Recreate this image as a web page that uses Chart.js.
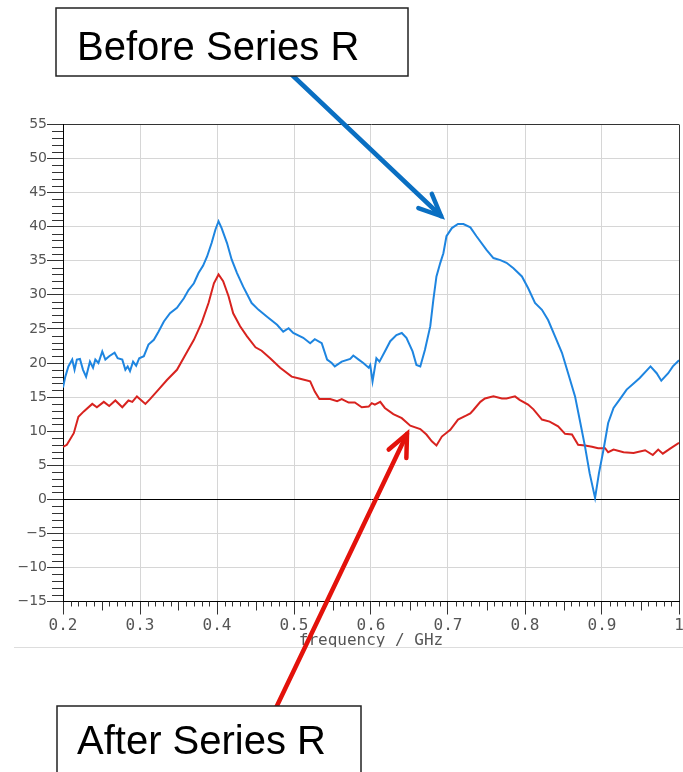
<!DOCTYPE html>
<html>
<head>
<meta charset="utf-8">
<script src="https://cdn.jsdelivr.net/npm/chart.js@4.4.0/dist/chart.umd.min.js"></script>
<style>
body { margin: 0; background: #fff; }
#wrap { position: relative; width: 683px; height: 772px; }
</style>
</head>
<body>
<div id="wrap"><canvas id="chart"></canvas></div>
<script>
// frecuencias (GHz) y valores
var freqBefore = [0.200,0.203,0.207,0.212,0.215,0.218,0.222,0.226,0.230,0.235,0.239,0.242,0.246,0.251,0.255,0.260,0.267,0.271,0.277,0.281,0.284,0.287,0.291,0.295,0.299,0.305,0.311,0.318,0.324,0.331,0.339,0.348,0.357,0.363,0.370,0.376,0.382,0.387,0.393,0.398,0.402,0.406,0.413,0.419,0.426,0.434,0.445,0.454,0.465,0.478,0.486,0.493,0.499,0.512,0.521,0.527,0.536,0.543,0.549,0.553,0.562,0.573,0.577,0.584,0.590,0.597,0.599,0.602,0.607,0.611,0.618,0.625,0.633,0.640,0.646,0.654,0.659,0.664,0.670,0.677,0.681,0.685,0.690,0.694,0.698,0.705,0.713,0.720,0.729,0.737,0.750,0.759,0.768,0.776,0.785,0.796,0.804,0.813,0.822,0.830,0.839,0.848,0.856,0.865,0.871,0.878,0.884,0.891,0.896,0.902,0.908,0.915,0.924,0.932,0.941,0.949,0.963,0.971,0.977,0.986,0.992,1.000];
var before = [16.4,18.0,19.5,20.5,19.0,20.5,20.6,19.0,18.0,20.2,19.3,20.5,20.0,21.7,20.5,21.0,21.5,20.7,20.5,19.0,19.5,18.8,20.2,19.6,20.7,21.0,22.7,23.4,24.6,26.1,27.3,28.1,29.5,30.7,31.7,33.2,34.3,35.6,37.6,39.6,40.8,39.8,37.6,35.2,33.2,31.2,28.8,27.8,26.8,25.6,24.6,25.1,24.4,23.7,22.9,23.5,22.9,20.5,20.0,19.5,20.2,20.6,21.1,20.5,20.0,19.3,19.7,17.3,20.7,20.2,21.7,23.2,24.1,24.4,23.7,21.7,19.7,19.5,21.9,25.4,29.3,32.7,34.7,36.1,38.6,39.8,40.4,40.4,39.9,38.6,36.6,35.4,35.1,34.7,33.9,32.7,31.0,28.8,27.8,26.3,23.9,21.5,18.5,15.1,11.7,7.7,3.8,0.2,3.8,7.3,11.2,13.4,14.8,16.1,17.0,17.8,19.5,18.5,17.4,18.5,19.5,20.4];

var freqAfter = [0.200,0.205,0.214,0.220,0.227,0.238,0.244,0.253,0.260,0.268,0.277,0.285,0.290,0.296,0.307,0.313,0.324,0.335,0.348,0.359,0.370,0.380,0.389,0.396,0.402,0.408,0.415,0.421,0.430,0.439,0.450,0.458,0.469,0.482,0.497,0.508,0.521,0.527,0.533,0.547,0.556,0.562,0.571,0.579,0.588,0.597,0.601,0.605,0.612,0.618,0.629,0.640,0.651,0.664,0.672,0.679,0.685,0.692,0.703,0.713,0.724,0.729,0.733,0.742,0.748,0.759,0.770,0.776,0.787,0.793,0.804,0.811,0.822,0.832,0.843,0.852,0.861,0.869,0.878,0.887,0.895,0.904,0.908,0.915,0.928,0.941,0.956,0.966,0.973,0.979,0.988,1.000];
var after = [7.7,8.0,9.7,12.1,12.9,14.0,13.5,14.3,13.7,14.5,13.5,14.5,14.3,15.1,14.0,14.7,16.1,17.5,19.0,21.2,23.4,25.9,28.8,31.7,33.0,32.0,29.8,27.3,25.4,23.9,22.3,21.8,20.7,19.3,18.0,17.7,17.3,15.8,14.7,14.7,14.4,14.7,14.2,14.2,13.5,13.6,14.1,13.9,14.3,13.4,12.5,11.9,10.8,10.3,9.5,8.5,7.9,9.2,10.2,11.7,12.3,12.6,13.1,14.3,14.8,15.1,14.8,14.8,15.1,14.6,13.9,13.2,11.7,11.4,10.7,9.6,9.5,8.0,7.9,7.7,7.5,7.5,6.9,7.3,6.9,6.8,7.2,6.5,7.3,6.7,7.4,8.3];

function toPoints(xs, ys) {
  return xs.map(function (x, i) { return { x: x, y: ys[i] }; });
}

function fmtY(v) {
  return v < 0 ? '\u2212' + (-v) : String(v);
}

function arrow(ctx, x1, y1, x2, y2, color) {
  var a = Math.atan2(y2 - y1, x2 - x1);
  var L = 24, w = 0.42;
  ctx.save();
  ctx.strokeStyle = color;
  ctx.lineWidth = 4.5;
  ctx.lineCap = 'round';
  ctx.lineJoin = 'miter';
  ctx.beginPath();
  ctx.moveTo(x1, y1);
  ctx.lineTo(x2, y2);
  ctx.stroke();
  ctx.beginPath();
  ctx.moveTo(x2 - L * Math.cos(a - w), y2 - L * Math.sin(a - w));
  ctx.lineTo(x2, y2);
  ctx.lineTo(x2 - L * Math.cos(a + w), y2 - L * Math.sin(a + w));
  ctx.stroke();
  ctx.restore();
}

function box(ctx, x, y, w, h, text, tx, ty) {
  ctx.save();
  ctx.fillStyle = '#fff';
  ctx.fillRect(x, y, w, h);
  ctx.strokeStyle = '#222';
  ctx.lineWidth = 1.5;
  ctx.strokeRect(x, y, w, h);
  ctx.fillStyle = '#000';
  ctx.font = '40px "Liberation Sans", Arial, sans-serif';
  ctx.textBaseline = 'alphabetic';
  ctx.fillText(text, tx, ty);
  ctx.restore();
}

// marcas menores de los ejes y las notas con flechas
var extras = {
  id: 'extras',
  afterDraw: function (chart) {
    var ctx = chart.ctx;
    var xs = chart.scales.x, ys = chart.scales.y;
    var area = chart.chartArea;
    ctx.save();
    ctx.strokeStyle = '#333';
    ctx.lineWidth = 1;
    ctx.beginPath();
    for (var v = -15; v <= 55; v++) {
      if (v % 5 === 0) continue;
      var py = Math.round(ys.getPixelForValue(v)) + 0.5;
      ctx.moveTo(area.left - 11, py);
      ctx.lineTo(area.left, py);
    }
    for (var i = 20; i <= 100; i++) {
      if (i % 10 === 0) continue;
      var px = Math.round(xs.getPixelForValue(i / 100)) + 0.5;
      var len = i % 5 === 0 ? 9 : 5;
      ctx.moveTo(px, area.bottom);
      ctx.lineTo(px, area.bottom + len);
    }
    ctx.stroke();
    ctx.strokeStyle = '#ddd';
    ctx.beginPath();
    ctx.moveTo(14, 647.5);
    ctx.lineTo(683, 647.5);
    ctx.stroke();
    ctx.restore();

    arrow(ctx, 290, 73, 441, 216, '#0a6fc2');
    arrow(ctx, 274, 712, 407, 434, '#e3120b');
    box(ctx, 56, 8, 352, 68, 'Before Series R', 77, 59.5);
    box(ctx, 57, 706, 304, 80, 'After Series R', 77, 754);
  }
};

var ctx = document.getElementById('chart').getContext('2d');
var myChart = new Chart(ctx, {
  type: 'line',
  data: {
    datasets: [{
      label: 'Before Series R',
      data: toPoints(freqBefore, before),
      borderColor: '#1e85e0',
      borderWidth: 2,
      pointRadius: 0,
      tension: 0
    }, {
      label: 'After Series R',
      data: toPoints(freqAfter, after),
      borderColor: '#d8231f',
      borderWidth: 2,
      pointRadius: 0,
      tension: 0
    }]
  },
  options: {
    responsive: true,
    maintainAspectRatio: false,
    animation: false,
    layout: { padding: { top: 124.5, right: 4, bottom: 120.5, left: 0 } },
    plugins: {
      legend: { display: false },
      tooltip: { enabled: false }
    },
    scales: {
      x: {
        type: 'linear',
        min: 0.2,
        max: 1,
        ticks: {
          stepSize: 0.1,
          color: '#555',
          padding: 2,
          maxRotation: 0,
          autoSkip: false,
          font: { family: 'DejaVu Sans Mono', size: 16 },
          callback: function (v) { return String(Math.round(v * 10) / 10); }
        },
        grid: {
          color: function (c) { return c.tick && Math.abs(c.tick.value - 1) < 1e-6 ? '#333' : '#d6d6d6'; },
          tickColor: '#333',
          tickLength: 13
        },
        border: { color: '#000' },
        title: {
          display: true,
          text: 'frequency / GHz',
          color: '#555',
          font: { family: 'DejaVu Sans Mono', size: 16 },
          padding: { top: 0, bottom: 1 }
        },
        afterFit: function (s) { s.height = 50; s.paddingLeft = 0; s.paddingRight = 0; }
      },
      y: {
        min: -15,
        max: 55,
        ticks: {
          stepSize: 5,
          color: '#555',
          padding: 0,
          font: { family: 'DejaVu Sans', size: 14 },
          callback: fmtY
        },
        grid: {
          color: function (c) {
            if (!c.tick) return '#d6d6d6';
            if (c.tick.value === 0) return '#000';
            if (c.tick.value === 55) return '#333';
            return '#d6d6d6';
          },
          tickColor: '#333',
          tickLength: 16
        },
        border: { color: '#000' },
        afterFit: function (s) { s.width = 63; }
      }
    }
  },
  plugins: [extras]
});
</script>
</body>
</html>
